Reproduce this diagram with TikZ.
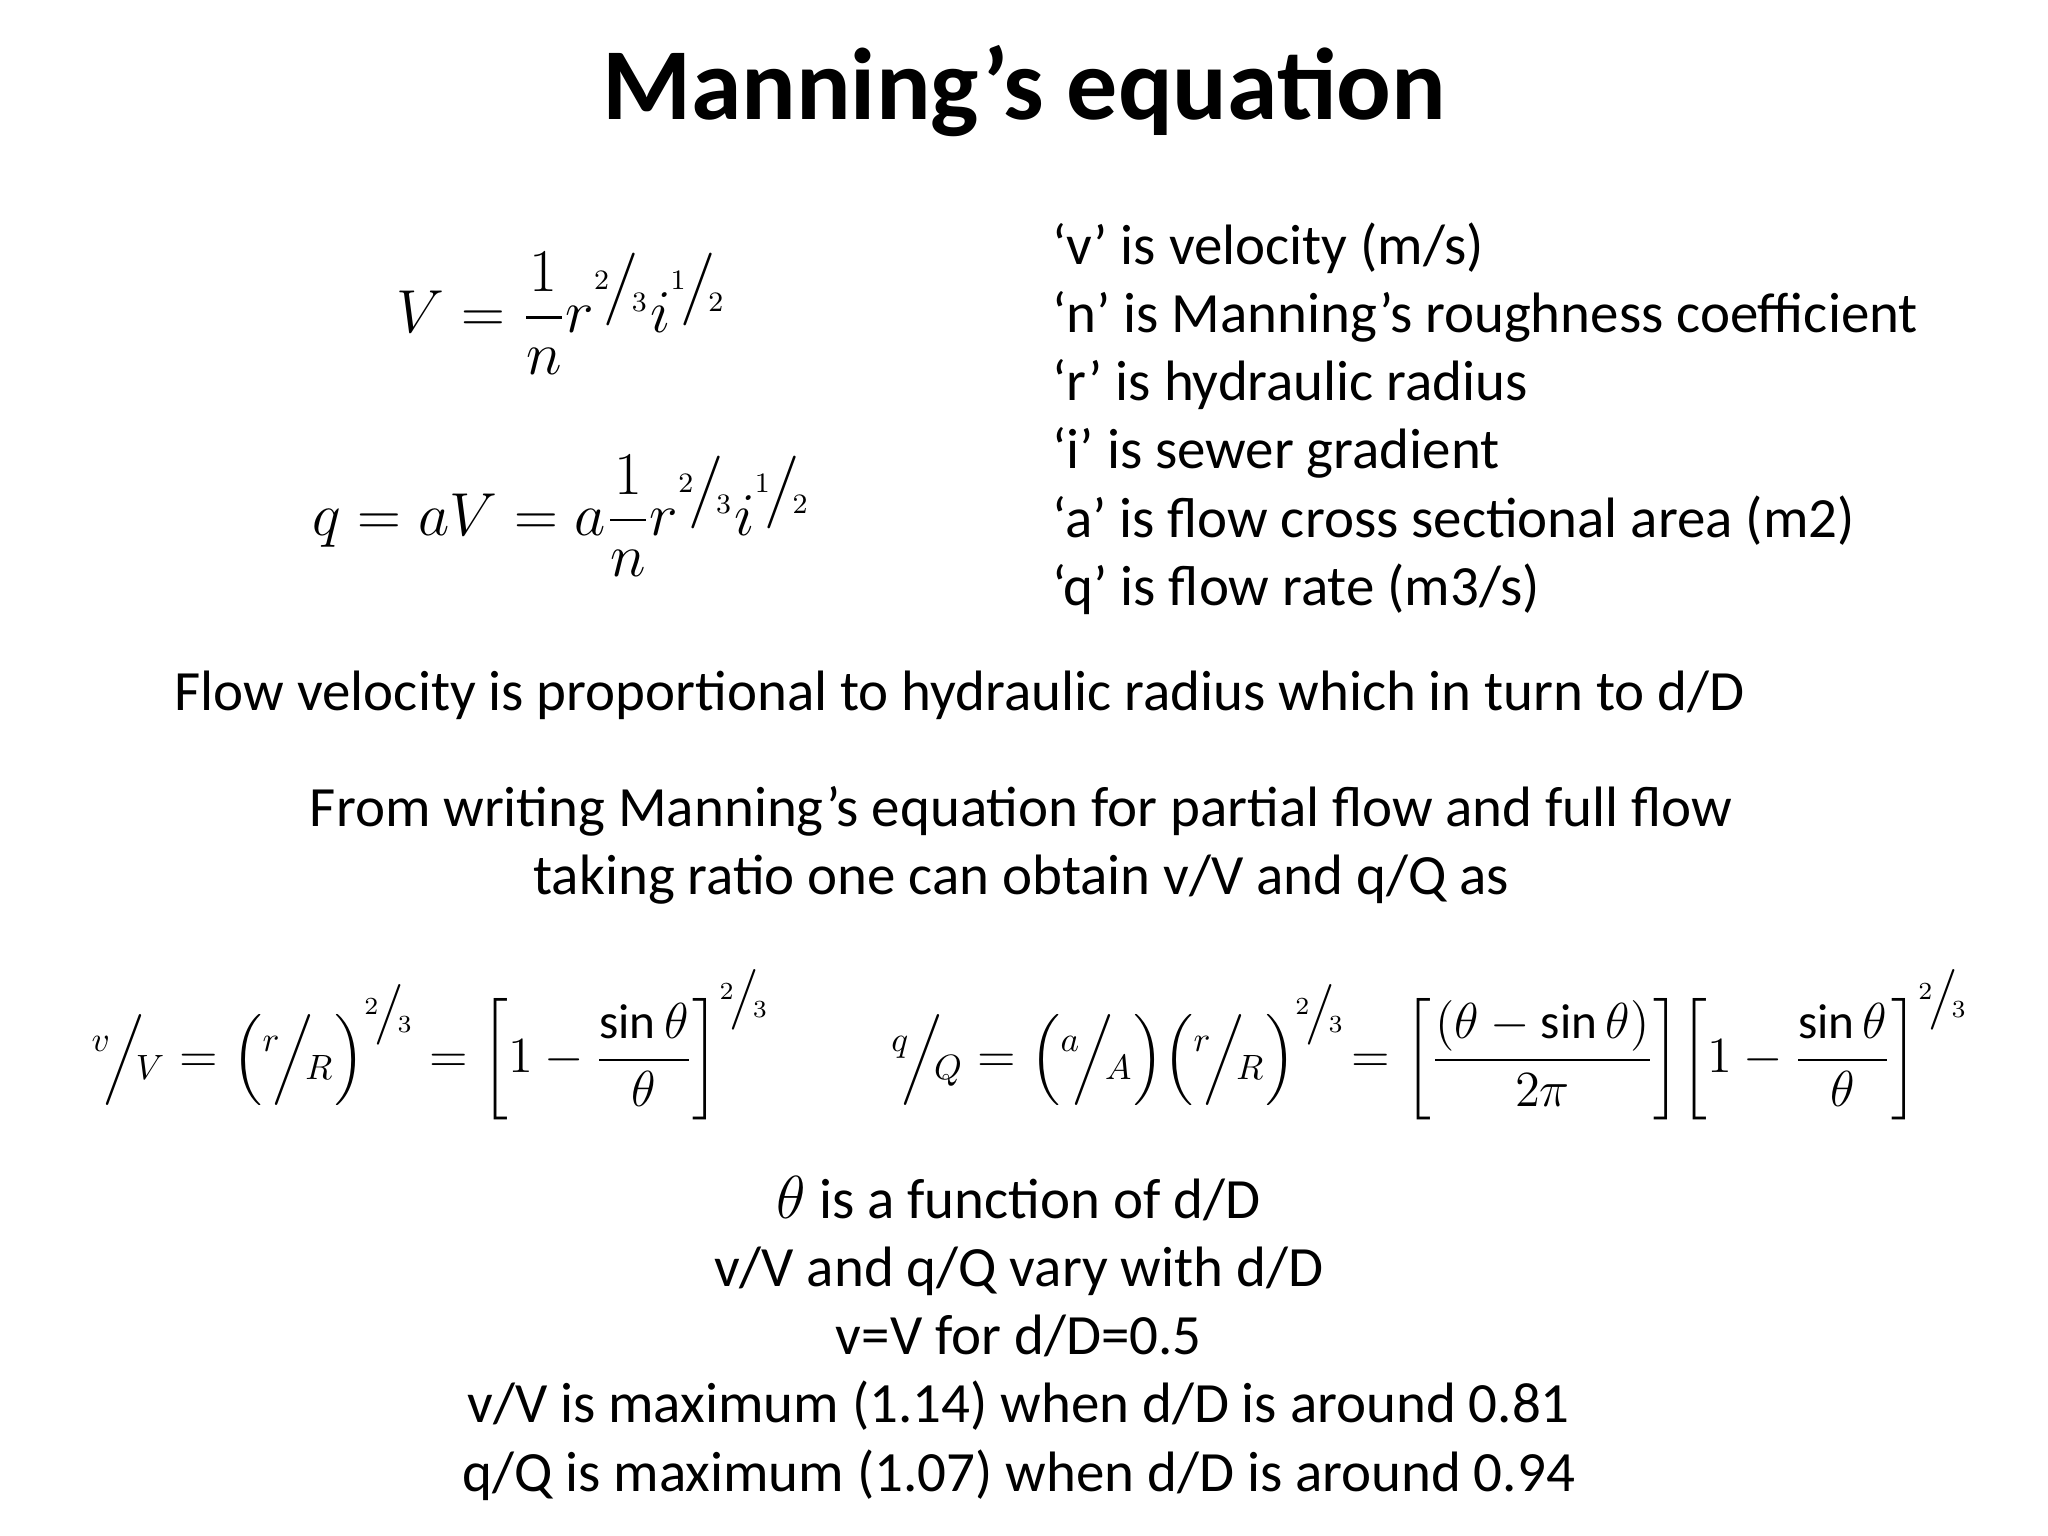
\documentclass[tikz,border=0pt]{standalone}
\usepackage{fontspec}
\usepackage{amsmath}
\setmainfont{Carlito}
\newcommand{\sfr}[2]{{}^{#1}\!\big/\!_{#2}}
\newcommand{\bfr}[2]{{}^{#1}\!\Big/\!_{#2}}
\begin{document}
\begin{tikzpicture}[x=0.01306cm,y=-0.01306cm,
  body/.style={font=\fontsize{16.2}{19.4}\selectfont,inner sep=0},
  eq/.style={font=\fontsize{17}{20}\selectfont,inner sep=0},
  eqs/.style={font=\fontsize{14}{17}\selectfont,inner sep=0}]
\useasboundingbox (0,0) rectangle (1568,1176);
\node[font=\fontsize{29}{34}\bfseries\selectfont] (title) at (784,70) {Manning’s equation};
\node[eq] (e1) at (430,240) {$\displaystyle V=\frac{1}{n}r^{\sfr{2}{3}}i^{\sfr{1}{2}}$};
\node[eq] (e2) at (430,395) {$\displaystyle q=aV=a\frac{1}{n}r^{\sfr{2}{3}}i^{\sfr{1}{2}}$};
\node[body,anchor=north west,align=left] (defs) at (805,170) {%
‘v’ is velocity (m/s)\\
‘n’ is Manning’s roughness coefficient\\
‘r’ is hydraulic radius\\
‘i’ is sewer gradient\\
‘a’ is flow cross sectional area (m2)\\
‘q’ is flow rate (m3/s)};
\node[body] (flow) at (735,532) {Flow velocity is proportional to hydraulic radius which in turn to d/D};
\node[body,align=center] (from) at (782,647) {From writing Manning’s equation for partial flow and full flow\\ taking ratio one can obtain v/V and q/Q as};
\node[eqs] (e3) at (330,800) {$\displaystyle \bfr{v}{V}=\left(\bfr{r}{R}\right)^{\sfr{2}{3}}=\left[1-\frac{\sin\theta}{\theta}\right]^{\sfr{2}{3}}$};
\node[eqs] (e4) at (1095,800) {$\displaystyle \bfr{q}{Q}=\left(\bfr{a}{A}\right)\!\left(\bfr{r}{R}\right)^{\sfr{2}{3}}\!=\left[\frac{(\theta-\sin\theta)}{2\pi}\right]\!\left[1-\frac{\sin\theta}{\theta}\right]^{\sfr{2}{3}}$};
\node[body,align=center,anchor=north] (notes) at (780,900) {%
$\theta$ is a function of d/D\\
v/V and q/Q vary with d/D\\
v=V for d/D=0.5\\
v/V is maximum (1.14) when d/D is around 0.81\\
q/Q is maximum (1.07) when d/D is around 0.94};
\end{tikzpicture}
\end{document}
